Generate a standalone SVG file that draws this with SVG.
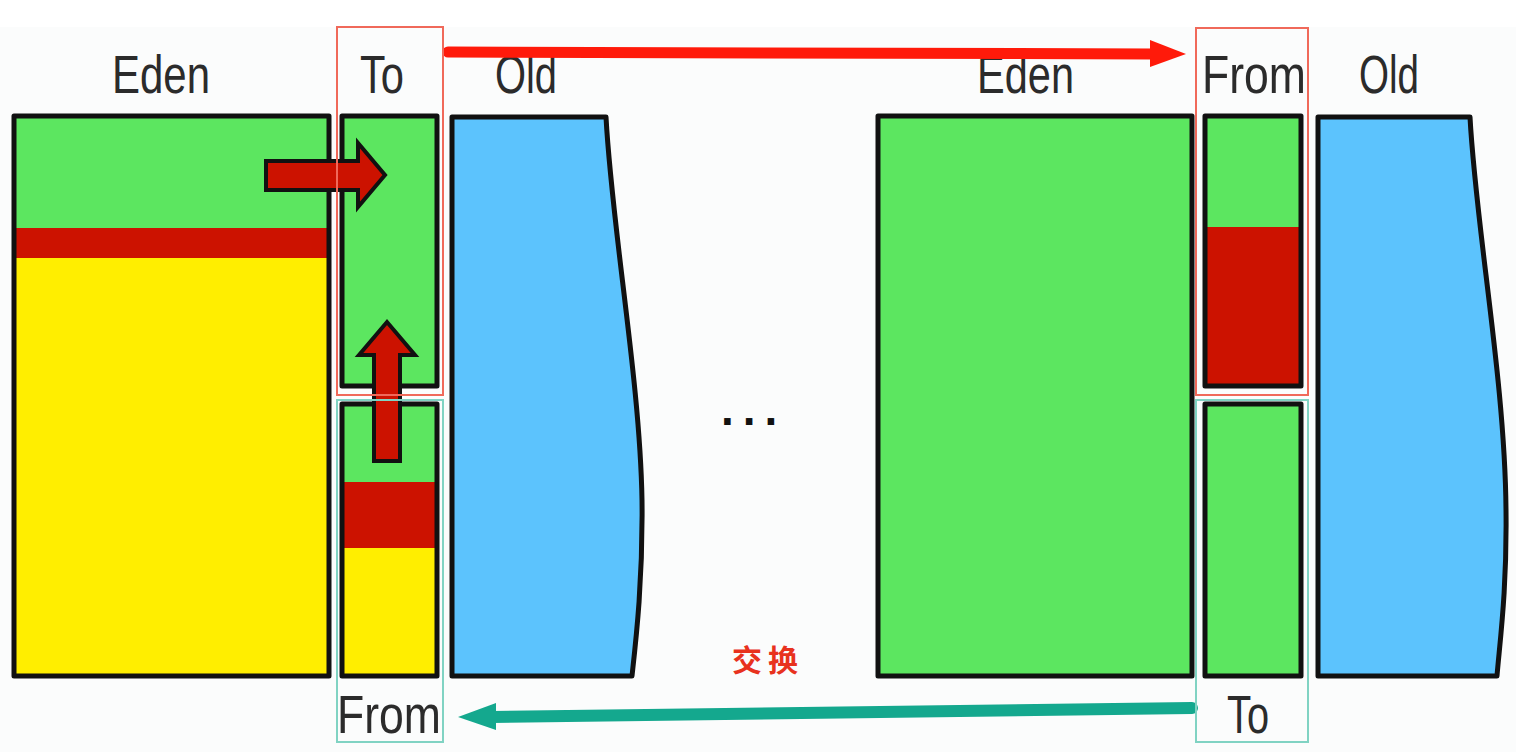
<svg xmlns="http://www.w3.org/2000/svg" width="1516" height="752" viewBox="0 0 1516 752">
  <style>
    .box { stroke: #111; stroke-width: 5; stroke-linejoin: round; }
    .outline { fill: none; stroke: #111; stroke-width: 5; stroke-linejoin: round; }
    .green { fill: #5ce660; }
    .red { fill: #cc1200; }
    .yellow { fill: #ffee00; }
    .blue { fill: #5cc3fd; }
    .lbl { font-family: "Liberation Sans", Arial, sans-serif; font-size: 53px; fill: #2b2b2b; }
    .hl-red { fill: none; stroke: #f0695a; stroke-width: 2; }
    .hl-teal { fill: none; stroke: #80d3c3; stroke-width: 2; }
    .small-arrow { fill: #cc1200; stroke: #111; stroke-width: 4; stroke-linejoin: miter; }
  </style>
  <rect x="0" y="0" width="1516" height="752" fill="#ffffff"/>
  <rect x="0" y="27" width="1516" height="725" fill="#fbfcfc"/>

  <g id="eden-left">
    <rect x="14" y="116" width="315" height="112" class="green"/>
    <rect x="14" y="228" width="315" height="30" class="red"/>
    <rect x="14" y="258" width="315" height="418" class="yellow"/>
    <rect x="14" y="116" width="315" height="560" class="outline"/>
    <text class="lbl" x="112" y="93" textLength="98" lengthAdjust="spacingAndGlyphs">Eden</text>
  </g>

  <g id="to-left">
    <rect x="342" y="116" width="95" height="270" class="green box"/>
    <text class="lbl" x="360" y="93" textLength="44" lengthAdjust="spacingAndGlyphs">To</text>
  </g>

  <g id="from-left">
    <rect x="342" y="404" width="95" height="78" class="green"/>
    <rect x="342" y="482" width="95" height="66" class="red"/>
    <rect x="342" y="548" width="95" height="128" class="yellow"/>
    <rect x="342" y="404" width="95" height="272" class="outline"/>
    <text class="lbl" x="337" y="733" textLength="104" lengthAdjust="spacingAndGlyphs">From</text>
  </g>

  <g id="old-left">
    <path d="M452,117 L606,117 C612,230 640,380 642,500 C643,580 636,640 632,676 L452,676 Z" class="blue box"/>
    <text class="lbl" x="495" y="93" textLength="62" lengthAdjust="spacingAndGlyphs">Old</text>
  </g>

  <g id="ellipsis">
    <text x="721" y="425" font-family="Liberation Sans, Arial, sans-serif" font-size="46" font-weight="bold" fill="#111" letter-spacing="9">...</text>
  </g>

  <g id="eden-right">
    <rect x="878" y="116" width="314" height="560" class="green box"/>
    <text class="lbl" x="977" y="93" textLength="97" lengthAdjust="spacingAndGlyphs">Eden</text>
  </g>

  <g id="from-right">
    <rect x="1205" y="116" width="96" height="111" class="green"/>
    <rect x="1205" y="227" width="96" height="159" class="red"/>
    <rect x="1205" y="116" width="96" height="270" class="outline"/>
    <text class="lbl" x="1202" y="93" textLength="104" lengthAdjust="spacingAndGlyphs">From</text>
  </g>

  <g id="to-right">
    <rect x="1205" y="404" width="96" height="272" class="green box"/>
    <text class="lbl" x="1227" y="733" textLength="42" lengthAdjust="spacingAndGlyphs">To</text>
  </g>

  <g id="old-right">
    <path d="M1318,117 L1470,117 C1476,230 1505,380 1506,510 C1507,590 1500,640 1497,676 L1318,676 Z" class="blue box"/>
    <text class="lbl" x="1359" y="93" textLength="60" lengthAdjust="spacingAndGlyphs">Old</text>
  </g>

  <g id="swap-label">
    <text x="732" y="671" font-family="Noto Sans CJK SC, sans-serif" font-size="30" font-weight="bold" fill="#e8321e" letter-spacing="6">交换</text>
  </g>

  <g id="connectors">
    <polygon class="small-arrow" points="266,161 358,161 358,143 385,175 358,207 358,190 266,190"/>
    <polygon class="small-arrow" points="374,461 374,355 359,355 387,322 415,355 400,355 400,461"/>
    <line x1="448" y1="52" x2="1153" y2="54" stroke="#ff1a0a" stroke-width="11" stroke-linecap="round"/>
    <polygon points="1150,40 1186,54 1150,67" fill="#ff1a0a"/>
    <line x1="1192" y1="708" x2="492" y2="717" stroke="#14a88e" stroke-width="12" stroke-linecap="round"/>
    <polygon points="496,703 458,717 496,730" fill="#14a88e"/>
  </g>

  <g id="highlights">
    <rect x="337" y="27" width="106" height="368" class="hl-red"/>
    <rect x="337" y="400" width="106" height="342" class="hl-teal"/>
    <rect x="1196" y="28" width="112" height="367" class="hl-red"/>
    <rect x="1196" y="400" width="112" height="342" class="hl-teal"/>
  </g>
</svg>
